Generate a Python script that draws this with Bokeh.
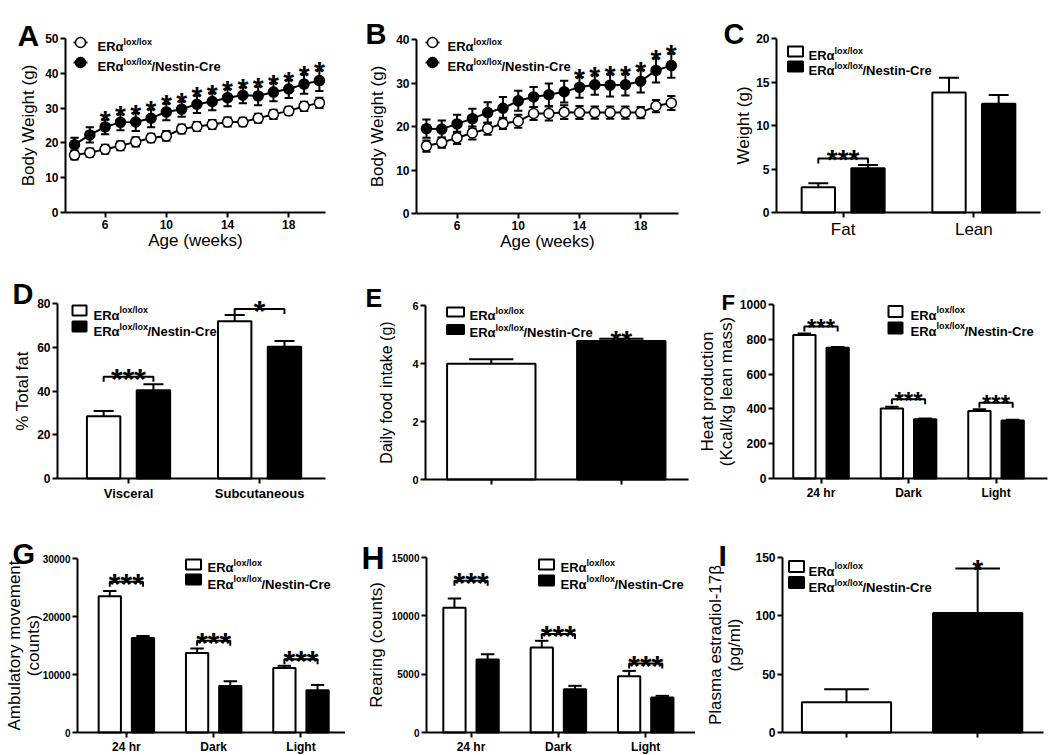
from bokeh.plotting import figure
from bokeh.layouts import row, column
from bokeh.models import Range1d, FixedTicker, Label
from bokeh.core.properties import value
from bokeh.embed import file_html
from bokeh.resources import INLINE

FONT = "Liberation Sans"

# ---------------- data ----------------
weeks = [4, 5, 6, 7, 8, 9, 10, 11, 12, 13, 14, 15, 16, 17, 18, 19, 20]
week_ticks = [6, 10, 14, 18]

a_ctrl = [16.5, 17.2, 18.2, 19.2, 20.3, 21.4, 22.0, 24.0, 24.7, 25.3, 26.0, 26.0, 27.1, 28.2, 29.2, 30.5, 31.5]
a_ctrl_err = [1.3, 1.2, 1.3, 1.3, 1.3, 1.2, 1.4, 1.3, 1.3, 1.3, 1.3, 1.2, 1.3, 1.3, 1.2, 1.3, 1.5]
a_ko = [19.5, 22.3, 24.6, 25.9, 26.0, 27.1, 28.9, 29.7, 31.1, 31.9, 33.0, 33.7, 33.5, 34.6, 35.5, 36.9, 37.9]
a_ko_err = [2.0, 2.2, 2.1, 2.3, 2.6, 2.6, 2.4, 2.2, 2.5, 2.5, 2.5, 2.3, 2.7, 2.6, 2.6, 2.8, 3.0]
a_sig_weeks = [6, 7, 8, 9, 10, 11, 12, 13, 14, 15, 16, 17, 18, 19, 20]

b_ctrl = [15.5, 16.3, 17.4, 18.5, 19.5, 20.7, 21.2, 23.0, 23.0, 23.3, 23.2, 23.2, 23.2, 23.2, 23.2, 24.7, 25.4]
b_ctrl_err = [1.3, 1.2, 1.4, 1.5, 1.4, 1.3, 1.5, 1.5, 1.6, 1.6, 1.5, 1.4, 1.4, 1.4, 1.3, 1.4, 1.6]
b_ko = [19.5, 19.4, 20.6, 21.8, 23.2, 24.2, 25.9, 26.8, 27.3, 28.0, 29.0, 29.6, 29.5, 29.6, 30.4, 32.9, 34.0]
b_ko_err = [2.1, 2.0, 2.1, 2.3, 2.4, 2.6, 2.3, 2.3, 2.6, 2.5, 2.4, 2.3, 2.6, 2.5, 2.6, 2.8, 2.8]
b_sig_weeks = [14, 15, 16, 17, 18, 19, 20]

c_groups = ["Fat", "Lean"]
c_ctrl = [2.9, 13.8]
c_ctrl_err = [0.45, 1.7]
c_ko = [5.1, 12.5]
c_ko_err = [0.35, 1.0]
c_bracket = [6.2, None]
c_bracket_text = ["***", ""]

d_groups = ["Visceral", "Subcutaneous"]
d_ctrl = [28.5, 71.9]
d_ctrl_err = [2.4, 2.8]
d_ko = [40.4, 60.2]
d_ko_err = [2.7, 2.7]
d_bracket = [46.5, 77.5]
d_bracket_text = ["***", "*"]

e_vals = [3.99, 4.78]
e_err = [0.16, 0.07]
e_sig = ["", "**"]

f_groups = ["24 hr", "Dark", "Light"]
f_ctrl = [824, 403, 388]
f_ctrl_err = [10, 10, 10]
f_ko = [751, 340, 333]
f_ko_err = [5, 5, 4]
f_bracket = [874, 455, 436]
f_bracket_text = ["***", "***", "***"]

g_groups = ["24 hr", "Dark", "Light"]
g_ctrl = [23500, 13700, 11100]
g_ctrl_err = [880, 800, 400]
g_ko = [16300, 8000, 7300]
g_ko_err = [350, 850, 900]
g_bracket = [26000, 15800, 12650]
g_bracket_text = ["***", "***", "***"]

h_groups = ["24 hr", "Dark", "Light"]
h_ctrl = [10700, 7290, 4830]
h_ctrl_err = [780, 570, 450]
h_ko = [6260, 3710, 3000]
h_ko_err = [450, 290, 140]
h_bracket = [13000, 8450, 5910]
h_bracket_text = ["***", "***", "***"]

i_vals = [26.0, 102.5]
i_err = [11.0, 38.0]
i_sig = ["", "*"]

STAR_FIX = 0.23   # baseline correction (fraction of font size) for the asterisk glyphs


# ---------------- helpers ----------------
class Geo:
    def __init__(s, frame, xr, yr):
        s.L, s.T, s.R, s.B = frame
        s.xr, s.yr = xr, yr

    def x(s, px):
        return s.xr[0] + (px - s.L) / (s.R - s.L) * (s.xr[1] - s.xr[0])

    def y(s, py):
        return s.yr[1] - (py - s.T) / (s.B - s.T) * (s.yr[1] - s.yr[0])

    def dx(s, d):
        return d / (s.R - s.L) * (s.xr[1] - s.xr[0])

    def dy(s, d):
        return d / (s.B - s.T) * (s.yr[1] - s.yr[0])


def make_panel(origin, size, frame, xr, yr, yticks, tick_size=12, ylab_standoff=5):
    ox, oy = origin
    w, h = size
    g = Geo(frame, xr, yr)
    full_x = Range1d(g.x(ox), g.x(ox + w))
    full_y = Range1d(g.y(oy + h), g.y(oy))
    p = figure(width=w, height=h, x_range=full_x, y_range=full_y,
               toolbar_location=None, output_backend="svg",
               min_border_left=0, min_border_right=0,
               min_border_top=0, min_border_bottom=0)
    p.outline_line_color = None
    p.xgrid.visible = False
    p.ygrid.visible = False
    p.background_fill_color = "white"
    p.border_fill_color = "white"
    p.yaxis.ticker = FixedTicker(ticks=yticks)
    p.xaxis.fixed_location = yr[0]
    p.xaxis.bounds = (xr[0], xr[1])
    p.yaxis.fixed_location = xr[0]
    p.yaxis.bounds = (yr[0], yr[1])
    for ax in (p.xaxis[0], p.yaxis[0]):
        ax.axis_line_width = 2
        ax.axis_line_color = "black"
        ax.major_tick_line_width = 2
        ax.major_tick_line_color = "black"
        ax.major_tick_in = 0
        ax.major_tick_out = 5
        ax.minor_tick_line_color = None
        ax.major_label_standoff = 2
        ax.major_label_text_font = FONT
        ax.major_label_text_font_style = "bold"
        ax.major_label_text_font_size = f"{tick_size}px"
        ax.major_label_text_color = "black"
        ax.axis_label_text_font = FONT
        ax.axis_label_text_font_style = "normal"
        ax.axis_label_text_font_size = "17px"
        ax.axis_label_text_color = "black"
        ax.axis_label_text_line_height = 1.0
    p.xaxis.axis_label_standoff = -1
    p.yaxis.axis_label_standoff = ylab_standoff
    return p, g


def add_label(p, x, y, text, size, bold=True, align="left"):
    p.add_layout(Label(x=x, y=y, text=text, text_font=FONT,
                       text_font_size=f"{size}px",
                       text_font_style="bold" if bold else "normal",
                       text_align=align, text_baseline="alphabetic",
                       text_color="black"))


def legend_text(p, g, tx, base, nestin, size=13, sup=9):
    w1 = 2.0 * size
    add_label(p, g.x(tx), g.y(base), "ERα", size)
    add_label(p, g.x(tx + w1), g.y(base - 5), "lox/lox", sup)
    if nestin:
        add_label(p, g.x(tx + w1 + 3.1 * sup), g.y(base), "/Nestin-Cre", size)


def box_legend(p, g, cx, cys, bw, bh, tx, bases, size=13, sup=9):
    p.rect(x=[g.x(cx)] * 2, y=[g.y(c) for c in cys], width=bw, height=bh,
           width_units="screen", height_units="screen",
           fill_color=["white", "black"], line_color="black", line_width=2)
    legend_text(p, g, tx, bases[0], False, size, sup)
    legend_text(p, g, tx, bases[1], True, size, sup)


def line_legend(p, g, mx, mys, tx, bases, size=13, sup=9):
    xs0 = [g.x(mx - 7)] * 2
    xs1 = [g.x(mx + 7)] * 2
    ys = [g.y(m) for m in mys]
    p.segment(x0=xs0, y0=ys, x1=xs1, y1=ys, line_color="black", line_width=2)
    p.scatter(x=[g.x(mx)] * 2, y=ys, size=10, fill_color=["white", "black"],
              line_color="black", line_width=1.5)
    legend_text(p, g, tx, bases[0], False, size, sup)
    legend_text(p, g, tx, bases[1], True, size, sup)


def panel_letter(p, g, px, py, letter, size):
    add_label(p, g.x(px), g.y(py), letter, size)


def err_bars(p, xs, vals, errs, cap_half, both=False):
    tops = [v + e for v, e in zip(vals, errs)]
    lows = [v - e for v, e in zip(vals, errs)] if both else list(vals)
    p.segment(x0=xs, y0=lows, x1=xs, y1=tops, line_color="black", line_width=2)
    p.segment(x0=[x - cap_half for x in xs], y0=tops,
              x1=[x + cap_half for x in xs], y1=tops, line_color="black", line_width=2)
    if both:
        p.segment(x0=[x - cap_half for x in xs], y0=lows,
                  x1=[x + cap_half for x in xs], y1=lows, line_color="black", line_width=2)
    return tops


def stars(p, g, xs, ys, texts, size, gap=3):
    base_off = 0.386 * size - gap - STAR_FIX * size
    p.text(x=xs, y=[y - g.dy(base_off) for y in ys], text=texts,
           text_font=value(FONT), text_font_style="bold",
           text_font_size=f"{size}px", text_align="center",
           text_baseline="alphabetic", text_color="black")


def line_panel(p, g, ctrl, ctrl_err, ko, ko_err, sig_weeks):
    err_bars(p, weeks, ko, ko_err, 0.27, both=True)
    err_bars(p, weeks, ctrl, ctrl_err, 0.27, both=True)
    p.line(weeks, ko, line_color="black", line_width=2)
    p.line(weeks, ctrl, line_color="black", line_width=2)
    p.scatter(weeks, ko, size=10, fill_color="black", line_color="black", line_width=1.5)
    p.scatter(weeks, ctrl, size=10, fill_color="white", line_color="black", line_width=1.5)
    caps = {w: v + e for w, v, e in zip(weeks, ko, ko_err)}
    stars(p, g, sig_weeks, [caps[w] for w in sig_weeks], ["*"] * len(sig_weeks), 28, gap=3)
    p.xaxis.ticker = FixedTicker(ticks=week_ticks)
    p.xaxis.axis_label = "Age (weeks)"
    p.yaxis.axis_label = "Body Weight (g)"


def group_bars(p, g, groups, ctrl, ctrl_err, ko, ko_err, brackets, btexts,
               star_size=28, width=0.255, offset=0.19, cap_frac=0.6):
    centers = [i + 1 for i in range(len(groups))]
    xc = [c - offset for c in centers]
    xk = [c + offset for c in centers]
    p.vbar(x=xc, top=ctrl, bottom=0, width=width, fill_color="white",
           line_color="black", line_width=2)
    p.vbar(x=xk, top=ko, bottom=0, width=width, fill_color="black",
           line_color="black", line_width=2)
    err_bars(p, xc, ctrl, ctrl_err, width * cap_frac / 2)
    err_bars(p, xk, ko, ko_err, width * cap_frac / 2)
    drop = g.dy(5)
    xs_list, ys_list, sx, sy, st = [], [], [], [], []
    for i, (bh, bt) in enumerate(zip(brackets, btexts)):
        if bh is None:
            continue
        xs_list.append([xc[i], xc[i], xk[i], xk[i]])
        ys_list.append([bh - drop, bh, bh, bh - drop])
        sx.append(centers[i])
        sy.append(bh)
        st.append(bt)
    p.multi_line(xs=xs_list, ys=ys_list, line_color="black", line_width=2)
    stars(p, g, sx, sy, st, star_size, gap=3)
    p.xaxis.ticker = FixedTicker(ticks=centers)
    p.xaxis.major_label_overrides = {c: name for c, name in zip(centers, groups)}


def two_bars(p, g, vals, errs, sig, width=0.68, cap_frac=0.5):
    xs = [1, 2]
    p.vbar(x=xs, top=vals, bottom=0, width=width, fill_color=["white", "black"],
           line_color="black", line_width=2)
    tops = err_bars(p, xs, vals, errs, width * cap_frac / 2)
    stars(p, g, xs, tops, sig, 28, gap=3)
    p.xaxis.ticker = FixedTicker(ticks=xs)
    p.xaxis.major_label_overrides = {1: "", 2: ""}


# ---------------- layout geometry (reference pixels) ----------------
COLX = [0, 345, 695]
COLW = [345, 350, 355]
ROWY = [0, 256, 502]
ROWH = [256, 246, 253]

# A
pA, gA = make_panel((COLX[0], ROWY[0]), (COLW[0], ROWH[0]), (65, 38, 325, 212),
                    (3.41, 20.4), (0, 50), [0, 10, 20, 30, 40, 50], ylab_standoff=4)
line_panel(pA, gA, a_ctrl, a_ctrl_err, a_ko, a_ko_err, a_sig_weeks)
line_legend(pA, gA, 80, [42, 62], 97, [46, 66])
panel_letter(pA, gA, 17, 35, "A", 30)

# B
pB, gB = make_panel((COLX[1], ROWY[0]), (COLW[1], ROWH[0]), (416, 39, 678, 213),
                    (3.35, 20.47), (0, 40), [0, 10, 20, 30, 40], ylab_standoff=6)
line_panel(pB, gB, b_ctrl, b_ctrl_err, b_ko, b_ko_err, b_sig_weeks)
line_legend(pB, gB, 432, [42, 62], 447, [46, 66])
panel_letter(pB, gB, 365, 33, "B", 29)

# C
pC, gC = make_panel((COLX[2], ROWY[0]), (COLW[2], ROWH[0]), (776, 38, 1040, 212),
                    (0.49, 2.51), (0, 20), [0, 5, 10, 15, 20], ylab_standoff=0)
group_bars(pC, gC, c_groups, c_ctrl, c_ctrl_err, c_ko, c_ko_err, c_bracket, c_bracket_text)
pC.xaxis.major_label_text_font_style = "normal"
pC.xaxis.major_label_text_font_size = "17px"
pC.yaxis.axis_label = "Weight (g)"
box_legend(pC, gC, 795, [51, 66], 15, 10, 808, [55, 70])
panel_letter(pC, gC, 723, 33, "C", 29)

# D
pD, gD = make_panel((COLX[0], ROWY[1]), (COLW[0], ROWH[1]), (57, 303, 325, 478),
                    (0.458, 2.503), (0, 80), [0, 20, 40, 60, 80], ylab_standoff=2)
group_bars(pD, gD, d_groups, d_ctrl, d_ctrl_err, d_ko, d_ko_err, d_bracket, d_bracket_text, star_size=30)
pD.xaxis.major_label_text_font_size = "13px"
pD.yaxis.axis_label = "% Total fat"
box_legend(pD, gD, 79, [310, 326], 14, 10, 93, [314.5, 331])
panel_letter(pD, gD, 12, 293, "D", 29)

# E
pE, gE = make_panel((COLX[1], ROWY[1]), (COLW[1], ROWH[1]), (425, 305, 688, 479),
                    (0.494, 2.517), (0, 6), [0, 2, 4, 6], tick_size=11, ylab_standoff=14)
two_bars(pE, gE, e_vals, e_err, e_sig)
pE.yaxis.axis_label = "Daily food intake (g)"
pE.yaxis.axis_label_text_font_size = "16px"
box_legend(pE, gE, 455, [311.5, 329], 17, 9, 469, [315, 332])
panel_letter(pE, gE, 365, 297, "E", 25)

# F
pF, gF = make_panel((COLX[2], ROWY[1]), (COLW[2], ROWH[1]), (773, 304, 1047, 478),
                    (0.457, 3.588), (0, 1000), [0, 200, 400, 600, 800, 1000],
                    tick_size=12, ylab_standoff=1)
group_bars(pF, gF, f_groups, f_ctrl, f_ctrl_err, f_ko, f_ko_err, f_bracket, f_bracket_text, star_size=24)
pF.xaxis.major_label_text_font_size = "12px"
pF.yaxis.axis_label = "Heat production\n(Kcal/kg lean mass)"
box_legend(pF, gF, 895, [311, 327.5], 14, 11, 910, [314.5, 330.5])
panel_letter(pF, gF, 721, 302, "F", 22)

# G
pG, gG = make_panel((COLX[0], ROWY[2]), (COLW[0], ROWH[2]), (77, 558, 345, 732),
                    (0.44, 3.51), (0, 30000), [0, 10000, 20000, 30000], tick_size=10,
                    ylab_standoff=-3)
group_bars(pG, gG, g_groups, g_ctrl, g_ctrl_err, g_ko, g_ko_err, g_bracket, g_bracket_text, star_size=30)
pG.xaxis.major_label_text_font_size = "12px"
pG.yaxis.axis_label = "Ambulatory movement\n(counts)"
box_legend(pG, gG, 193, [564, 579], 15, 10, 207, [567, 583.5])
panel_letter(pG, gG, 12, 553, "G", 29)

# H
pH, gH = make_panel((COLX[1], ROWY[2]), (COLW[1], ROWH[2]), (426, 557, 695, 732),
                    (0.49, 3.57), (0, 15000), [0, 5000, 10000, 15000], tick_size=10,
                    ylab_standoff=3)
group_bars(pH, gH, h_groups, h_ctrl, h_ctrl_err, h_ko, h_ko_err, h_bracket, h_bracket_text, star_size=30)
pH.xaxis.major_label_text_font_size = "12px"
pH.yaxis.axis_label = "Rearing (counts)"
box_legend(pH, gH, 546, [564, 580], 15, 10, 560, [567, 583.5])
panel_letter(pH, gH, 361, 557, "H", 32)

# I
pI, gI = make_panel((COLX[2], ROWY[2]), (COLW[2], ROWH[2]), (782, 557, 1043, 732),
                    (0.512, 2.502), (0, 150), [0, 50, 100, 150], ylab_standoff=8)
two_bars(pI, gI, i_vals, i_err, i_sig)
pI.yaxis.axis_label = "Plasma estradiol-17β\n(pg/ml)"
box_legend(pI, gI, 796, [566, 582], 15, 11, 808, [570.5, 587])
panel_letter(pI, gI, 718, 555, "I", 30)

layout = column(row(pA, pB, pC), row(pD, pE, pF), row(pG, pH, pI))

with open("out.html", "w") as f:
    f.write(file_html(layout, INLINE))
